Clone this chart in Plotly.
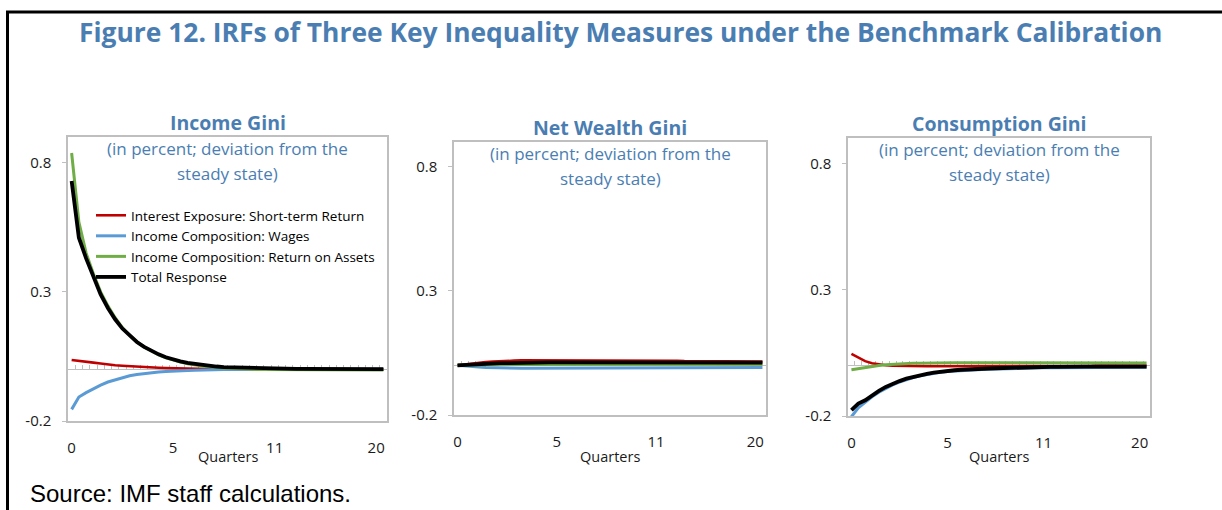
import plotly.graph_objects as go

# ---------------- data ----------------
quarter_labels = ["0", "5", "11", "20"]
quarter_label_index = [0, 14, 28, 42]
n_points = 44
x_idx = list(range(n_points))

series_names = [
    "Interest Exposure: Short-term Return",
    "Income Composition: Wages",
    "Income Composition: Return on Assets",
    "Total Response",
]
series_colors = ["#C00000", "#5B9BD5", "#70AD47", "#000000"]
series_widths = [2.6, 3.0, 3.0, 3.8]

panel_titles = ["Income Gini", "Net Wealth Gini", "Consumption Gini"]
subtitle_lines = ["(in percent; deviation from the", "steady state)"]
y_ticks = [-0.2, 0.3, 0.8]
y_ticktext = ["-0.2", "0.3", "0.8"]

# Income Gini
inc_red = [0.036, 0.032, 0.029, 0.026, 0.023, 0.019, 0.016, 0.014, 0.012, 0.010,
           0.008, 0.007, 0.006, 0.005, 0.004, 0.003, 0.003, 0.002, 0.002, 0.001,
           0.001, 0.001, 0.001, 0.0, 0.0, 0.0, 0.0, 0.0, 0.0, 0.0,
           0.0, 0.0, 0.0, 0.0, 0.0, 0.0, 0.0, 0.0, 0.0, 0.0,
           0.0, 0.0, 0.0, 0.0]
inc_blue = [-0.155, -0.107, -0.090, -0.074, -0.061, -0.049, -0.040, -0.032, -0.025, -0.020,
            -0.016, -0.013, -0.010, -0.008, -0.006, -0.005, -0.004, -0.003, -0.002, -0.002,
            -0.001, -0.001, -0.001, 0.0, 0.0, 0.0, 0.0, 0.0, 0.0, 0.0,
            0.0, 0.0, 0.0, 0.0, 0.0, 0.0, 0.0, 0.0, 0.0, 0.0,
            0.0, 0.0, 0.0, 0.0]
inc_green = [0.838, 0.570, 0.450, 0.370, 0.300, 0.246, 0.200, 0.162, 0.132, 0.107,
             0.087, 0.070, 0.056, 0.045, 0.036, 0.028, 0.022, 0.017, 0.013, 0.010,
             0.007, 0.005, 0.004, 0.002, 0.001, 0.0, -0.001, -0.001, -0.001, -0.002,
             -0.002, -0.002, -0.002, -0.002, -0.002, -0.002, -0.002, -0.002, -0.002, -0.002,
             -0.002, -0.002, -0.002, -0.002]
inc_black = [0.730, 0.510, 0.430, 0.355, 0.290, 0.238, 0.194, 0.158, 0.130, 0.106,
             0.087, 0.071, 0.058, 0.047, 0.038, 0.031, 0.025, 0.021, 0.017, 0.014,
             0.011, 0.009, 0.008, 0.007, 0.006, 0.005, 0.004, 0.004, 0.003, 0.003,
             0.003, 0.002, 0.002, 0.002, 0.002, 0.002, 0.001, 0.001, 0.001, 0.001,
             0.001, 0.001, 0.001, 0.001]

# Net Wealth Gini
nw_red = [0.0, 0.004, 0.008, 0.011, 0.013, 0.015, 0.017, 0.018, 0.019, 0.020,
          0.020, 0.021, 0.021, 0.021, 0.021, 0.021, 0.021, 0.021, 0.021, 0.021,
          0.020, 0.020, 0.020, 0.020, 0.019, 0.019, 0.019, 0.019, 0.018, 0.018,
          0.018, 0.018, 0.017, 0.017, 0.017, 0.017, 0.016, 0.016, 0.016, 0.016,
          0.016, 0.015, 0.015, 0.015]
nw_blue = [0.0, -0.003, -0.005, -0.007, -0.009, -0.010, -0.011, -0.012, -0.012, -0.012,
           -0.012, -0.012, -0.012, -0.012, -0.012, -0.012, -0.012, -0.012, -0.011, -0.011,
           -0.011, -0.011, -0.011, -0.011, -0.011, -0.011, -0.010, -0.010, -0.010, -0.010,
           -0.010, -0.010, -0.010, -0.010, -0.010, -0.010, -0.010, -0.009, -0.009, -0.009,
           -0.009, -0.009, -0.009, -0.009]
nw_green = [0.0, 0.001, 0.001, 0.002, 0.002, 0.002, 0.003, 0.003, 0.003, 0.003,
            0.003, 0.003, 0.003, 0.003, 0.003, 0.003, 0.003, 0.003, 0.003, 0.003,
            0.003, 0.003, 0.003, 0.003, 0.003, 0.003, 0.003, 0.003, 0.003, 0.003,
            0.003, 0.003, 0.003, 0.004, 0.004, 0.004, 0.004, 0.004, 0.004, 0.004,
            0.004, 0.004, 0.004, 0.004]
nw_black = [0.0, 0.002, 0.004, 0.006, 0.006, 0.007, 0.009, 0.009, 0.010, 0.011,
            0.011, 0.012, 0.012, 0.012, 0.012, 0.012, 0.012, 0.012, 0.013, 0.013,
            0.012, 0.012, 0.012, 0.012, 0.012, 0.012, 0.012, 0.012, 0.012, 0.012,
            0.011, 0.011, 0.011, 0.011, 0.011, 0.011, 0.011, 0.011, 0.011, 0.011,
            0.011, 0.011, 0.011, 0.011]

# Consumption Gini
con_red = [0.046, 0.030, 0.017, 0.009, 0.004, 0.001, -0.001, -0.002, -0.003, -0.003,
           -0.003, -0.003, -0.003, -0.003, -0.003, -0.002, -0.002, -0.002, -0.002, -0.002,
           -0.002, -0.001, -0.001, -0.001, -0.001, -0.001, -0.001, -0.001, -0.001, -0.001,
           -0.001, -0.001, -0.001, -0.001, -0.001, -0.001, 0.0, 0.0, 0.0, 0.0,
           0.0, 0.0, 0.0, 0.0]
con_blue = [-0.203, -0.168, -0.146, -0.124, -0.106, -0.090, -0.077, -0.066, -0.056, -0.048,
            -0.041, -0.036, -0.031, -0.027, -0.024, -0.022, -0.020, -0.018, -0.017, -0.016,
            -0.015, -0.014, -0.013, -0.012, -0.011, -0.011, -0.010, -0.010, -0.009, -0.009,
            -0.009, -0.008, -0.008, -0.008, -0.008, -0.007, -0.007, -0.007, -0.007, -0.007,
            -0.007, -0.007, -0.007, -0.007]
con_green = [-0.017, -0.012, -0.007, -0.003, 0.0, 0.003, 0.005, 0.006, 0.008, 0.009,
             0.009, 0.010, 0.010, 0.011, 0.011, 0.011, 0.011, 0.011, 0.011, 0.011,
             0.011, 0.011, 0.011, 0.011, 0.011, 0.011, 0.011, 0.011, 0.011, 0.011,
             0.011, 0.011, 0.010, 0.010, 0.010, 0.010, 0.010, 0.010, 0.010, 0.010,
             0.010, 0.010, 0.010, 0.010]
con_black = [-0.177, -0.151, -0.138, -0.118, -0.101, -0.085, -0.072, -0.062, -0.052, -0.045,
             -0.038, -0.033, -0.028, -0.024, -0.021, -0.019, -0.017, -0.015, -0.014, -0.013,
             -0.012, -0.011, -0.010, -0.009, -0.008, -0.008, -0.007, -0.007, -0.006, -0.006,
             -0.006, -0.005, -0.005, -0.005, -0.005, -0.005, -0.005, -0.005, -0.005, -0.005,
             -0.005, -0.005, -0.005, -0.005]

panel_series = [
    [inc_red, inc_blue, inc_green, inc_black],
    [nw_red, nw_blue, nw_green, nw_black],
    [con_red, con_blue, con_green, con_black],
]

# ---------------- layout geometry ----------------
W, H = 1222, 510
Y_MIN, Y_MAX = -0.2, 0.9
X_MIN, X_MAX = -0.5, n_points - 0.5
# plot areas in pixels: (left, right, top, bottom)
panel_px = [(68, 387, 137, 421), (454, 766, 142, 415), (848, 1150, 138, 416)]

BLUE_TXT = "#4A7EB2"
AXIS_GRAY = "#BFBFBF"
FONT = "Open Sans"

fig = go.Figure()
layout = dict(
    template="none",
    width=W, height=H, autosize=False,
    margin=dict(l=0, r=0, t=0, b=0, pad=0, autoexpand=False),
    paper_bgcolor="white", plot_bgcolor="white",
    font=dict(family=FONT, color="#1a1a1a"),
    showlegend=True,
    legend=dict(x=91 / W, y=1 - 200 / H, xanchor="left", yanchor="top",
                bgcolor="rgba(0,0,0,0)", borderwidth=0,
                font=dict(family=FONT, size=13.5, color="#000"),
                tracegroupgap=0, itemwidth=30),
)
annotations = []
shapes = []

for p, (l, r, t, b) in enumerate(panel_px):
    k = p + 1
    xa = "x" if k == 1 else f"x{k}"
    ya = "y" if k == 1 else f"y{k}"
    xd = [l / W, r / W]
    yd = [1 - b / H, 1 - t / H]
    for s in range(4):
        fig.add_trace(go.Scatter(
            x=x_idx, y=panel_series[p][s], mode="lines", name=series_names[s],
            line=dict(color=series_colors[s], width=series_widths[s]),
            xaxis=xa, yaxis=ya, showlegend=(p == 0), legendgroup=series_names[s],
        ))
    layout[f"xaxis{'' if k == 1 else k}"] = dict(
        domain=xd, anchor=ya, range=[X_MIN, X_MAX], automargin=False,
        tickmode="array", tickvals=quarter_label_index, ticktext=quarter_labels,
        ticks="", showline=True, mirror=True, linecolor=AXIS_GRAY, linewidth=1.5,
        showgrid=False, zeroline=False, ticklabelstandoff=12,
        tickfont=dict(family=FONT, size=15, color="#1a1a1a"),
    )
    layout[f"yaxis{'' if k == 1 else k}"] = dict(
        domain=yd, anchor=xa, range=[Y_MIN, Y_MAX], automargin=False,
        tickmode="array", tickvals=y_ticks, ticktext=y_ticktext,
        ticks="outside", ticklen=4, tickcolor=AXIS_GRAY,
        showline=True, mirror=True, linecolor=AXIS_GRAY, linewidth=1.5,
        showgrid=False, zeroline=False, ticklabelstandoff=8,
        tickfont=dict(family=FONT, size=15, color="#1a1a1a"),
    )
    # zero line with category tick marks (overlay axis)
    zk = k + 3
    zero_pos = yd[0] + (0 - Y_MIN) / (Y_MAX - Y_MIN) * (yd[1] - yd[0])
    layout[f"xaxis{zk}"] = dict(
        domain=xd, overlaying=xa, anchor="free", position=zero_pos, automargin=False,
        range=[X_MIN, X_MAX], tick0=0.5, dtick=1, ticks="inside", ticklen=4,
        tickcolor=AXIS_GRAY, tickwidth=1, showticklabels=False, showline=True,
        linecolor=AXIS_GRAY, linewidth=1.2, showgrid=False, zeroline=False,
        layer="below traces",
    )
    fig.add_trace(go.Scatter(x=[X_MIN], y=[0], mode="lines", xaxis=f"x{zk}", yaxis=ya,
                             showlegend=False, hoverinfo="skip", line=dict(width=0)))
    cx = (l + r) / 2 / W
    # panel title
    annotations.append(dict(text=f"<b>{panel_titles[p]}</b>", xref="paper", yref="paper",
                            x=cx, y=1 - (t - 15) / H, xanchor="center", yanchor="middle",
                            showarrow=False, font=dict(family=FONT, size=19.5, color=BLUE_TXT)))
    # subtitle lines
    for j, line in enumerate(subtitle_lines):
        annotations.append(dict(text=line, xref="paper", yref="paper",
                                x=cx, y=1 - (t + 11 + 25 * j) / H, xanchor="center", yanchor="middle",
                                showarrow=False, font=dict(family=FONT, size=17, color=BLUE_TXT)))
    # x axis title
    annotations.append(dict(text="Quarters", xref="paper", yref="paper",
                            x=(l + r) / 2 / W, y=1 - 456 / H, xanchor="center", yanchor="middle",
                            showarrow=False, font=dict(family=FONT, size=14.5, color="#1a1a1a")))

# main title
annotations.append(dict(
    text="<b>Figure 12. IRFs of Three Key Inequality Measures under the Benchmark Calibration</b>",
    xref="paper", yref="paper", x=620 / W, y=1 - 32 / H, xanchor="center", yanchor="middle",
    showarrow=False, font=dict(family=FONT, size=26.4, color=BLUE_TXT)))
# source
annotations.append(dict(
    text="Source: IMF staff calculations.", xref="paper", yref="paper",
    x=28 / W, y=1 - 493 / H, xanchor="left", yanchor="middle", showarrow=False,
    font=dict(family="Liberation Sans, Arial", size=24, color="#000")))

# frame
shapes.append(dict(type="line", xref="paper", yref="paper", x0=6 / W, x1=1, y0=1 - 12 / H, y1=1 - 12 / H,
                   line=dict(color="black", width=3)))
shapes.append(dict(type="line", xref="paper", yref="paper", x0=7.5 / W, x1=7.5 / W, y0=0, y1=1 - 12 / H,
                   line=dict(color="black", width=3)))

layout["annotations"] = annotations
layout["shapes"] = shapes
fig.update_layout(**layout)

page_fix = (
    "document.body.style.margin='0';"
    "document.body.style.overflow='hidden';"
)
fig.write_html("out.html", config={"displayModeBar": False}, post_script=page_fix)
